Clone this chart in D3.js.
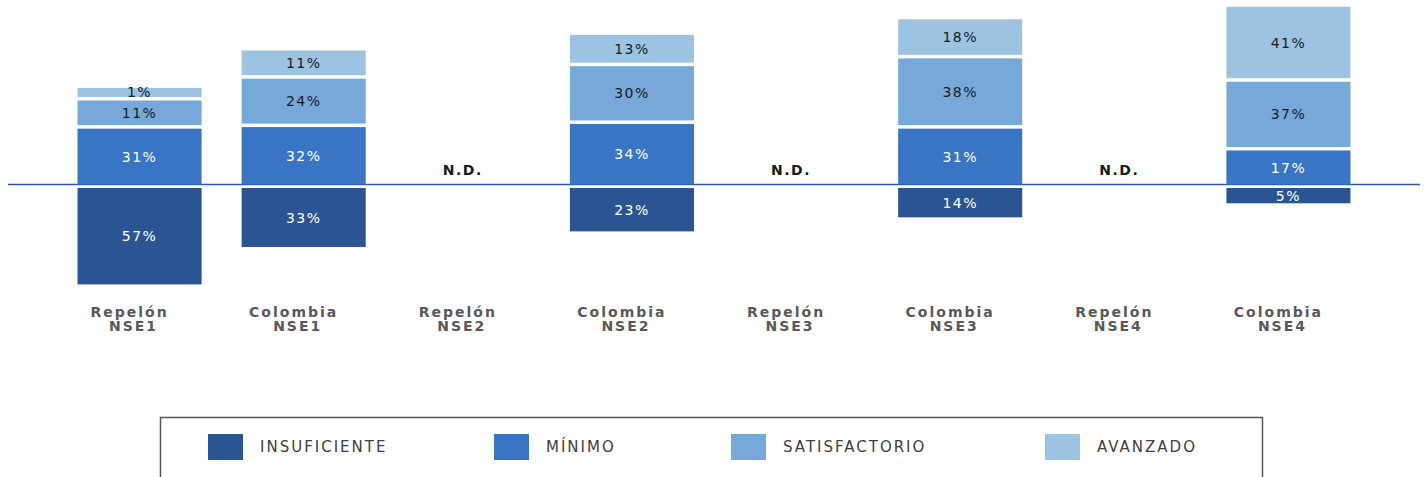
<!DOCTYPE html>
<html>
<head>
<meta charset="utf-8">
<script src="https://cdn.jsdelivr.net/npm/d3@7"></script>
<style>
  body { margin: 0; background: #fff; }
  svg { display: block; }
  text { font-family: "DejaVu Sans", Verdana, sans-serif; }
</style>
</head>
<body>
<div id="chart"></div>
<script>
let categories = [
    "Repelón NSE1", "Colombia NSE1", "Repelón NSE2", "Colombia NSE2",
    "Repelón NSE3", "Colombia NSE3", "Repelón NSE4", "Colombia NSE4"];
let levels = ["INSUFICIENTE", "MÍNIMO", "SATISFACTORIO", "AVANZADO"];
// null = N.D.
let insuficiente = [57, 33, null, 23, null, 14, null, 5];
let minimo = [31, 32, null, 34, null, 31, null, 17];
let satisfactorio = [11, 24, null, 30, null, 38, null, 37];
let avanzado = [1, 11, null, 13, null, 18, null, 41];

let colors = ["#2b5592", "#3a74c4", "#76a9da", "#9dc3e3"];
let textColors = ["#ffffff", "#ffffff", "#1a1a1a", "#1a1a1a"];

let width = 1426;
let height = 477;
let baseline = 184.5;
let gap = 3.5;

let svg = d3.select("#chart")
    .append("svg")
    .attr("width", width)
    .attr("height", height);

let x = d3.scaleBand()
    .domain(categories)
    .range([57.5, 1370.5])
    .paddingInner(0.244)
    .paddingOuter(0.122);

// segment length (segments carry a fixed minimum size in the original)
let len = d3.scaleLinear().domain([0, 100]).range([11, 167]);

// baseline
svg.append("line")
    .attr("x1", 8).attr("x2", 1420)
    .attr("y1", baseline).attr("y2", baseline)
    .attr("stroke", "#2f5597")
    .attr("stroke-width", 1.5);

let rows = categories.map(function(c, i) {
    return {cat: c, vals: [insuficiente[i], minimo[i], satisfactorio[i], avanzado[i]]};
});

let segs = [];
rows.forEach(function(r) {
    if (r.vals[0] === null) return;
    // below: insuficiente
    let h0 = len(r.vals[0]) - gap;
    segs.push({cat: r.cat, k: 0, v: r.vals[0], y: baseline + gap, h: h0});
    // above: stacked
    let cum = 0;
    for (let k = 1; k < 4; k++) {
        let s = len(r.vals[k]);
        segs.push({cat: r.cat, k: k, v: r.vals[k], y: baseline - cum - (s - gap), h: s - gap});
        cum += s;
    }
});

let bars = svg.append("g");
bars.selectAll("rect")
    .data(segs)
    .enter().append("rect")
    .attr("x", d => x(d.cat))
    .attr("y", d => d.y)
    .attr("width", x.bandwidth())
    .attr("height", d => d.h)
    .attr("fill", d => colors[d.k]);

bars.selectAll("text")
    .data(segs)
    .enter().append("text")
    .attr("x", d => x(d.cat) + x.bandwidth() / 2)
    .attr("y", d => d.y + d.h / 2)
    .attr("dy", "0.36em")
    .attr("text-anchor", "middle")
    .style("font-size", "14px")
    .style("letter-spacing", "1.5px")
    .attr("fill", d => textColors[d.k])
    .text(d => d.v + "%");

// N.D.
svg.selectAll(".nd")
    .data(rows.filter(r => r.vals[0] === null))
    .enter().append("text")
    .attr("class", "nd")
    .attr("x", d => x(d.cat) + x.bandwidth() / 2 - 5)
    .attr("y", 175)
    .attr("text-anchor", "middle")
    .style("font-size", "14px")
    .style("font-weight", "bold")
    .style("letter-spacing", "1.5px")
    .attr("fill", "#1a1a1a")
    .text("N.D.");

// category labels
let lab = svg.selectAll(".cat")
    .data(categories)
    .enter().append("text")
    .attr("class", "cat")
    .attr("text-anchor", "middle")
    .style("font-size", "14px")
    .style("font-weight", "bold")
    .style("letter-spacing", "2px")
    .attr("fill", "#595959");
lab.append("tspan")
    .attr("x", d => x(d) + x.bandwidth() / 2 - 10)
    .attr("y", 317)
    .text(d => d.split(" ")[0]);
lab.append("tspan")
    .attr("x", d => x(d) + x.bandwidth() / 2 - 6)
    .attr("y", 331)
    .text(d => d.split(" ")[1]);

// legend
svg.append("rect")
    .attr("x", 160.5).attr("y", 417.5)
    .attr("width", 1102).attr("height", 80)
    .attr("fill", "none")
    .attr("stroke", "#555")
    .attr("stroke-width", 1.5);

let legX = [208, 494, 731, 1045];
let legendG = svg.selectAll(".legend")
    .data(levels)
    .enter().append("g")
    .attr("class", "legend")
    .attr("transform", (d, i) => "translate(" + legX[i] + ",434)");

legendG.append("rect")
    .attr("width", 35)
    .attr("height", 26)
    .attr("fill", (d, i) => colors[i]);

legendG.append("text")
    .attr("x", 52)
    .attr("y", 13)
    .attr("dy", "0.36em")
    .style("font-size", "15px")
    .style("letter-spacing", "2px")
    .attr("fill", "#404040")
    .text(d => d);
</script>
</body>
</html>
